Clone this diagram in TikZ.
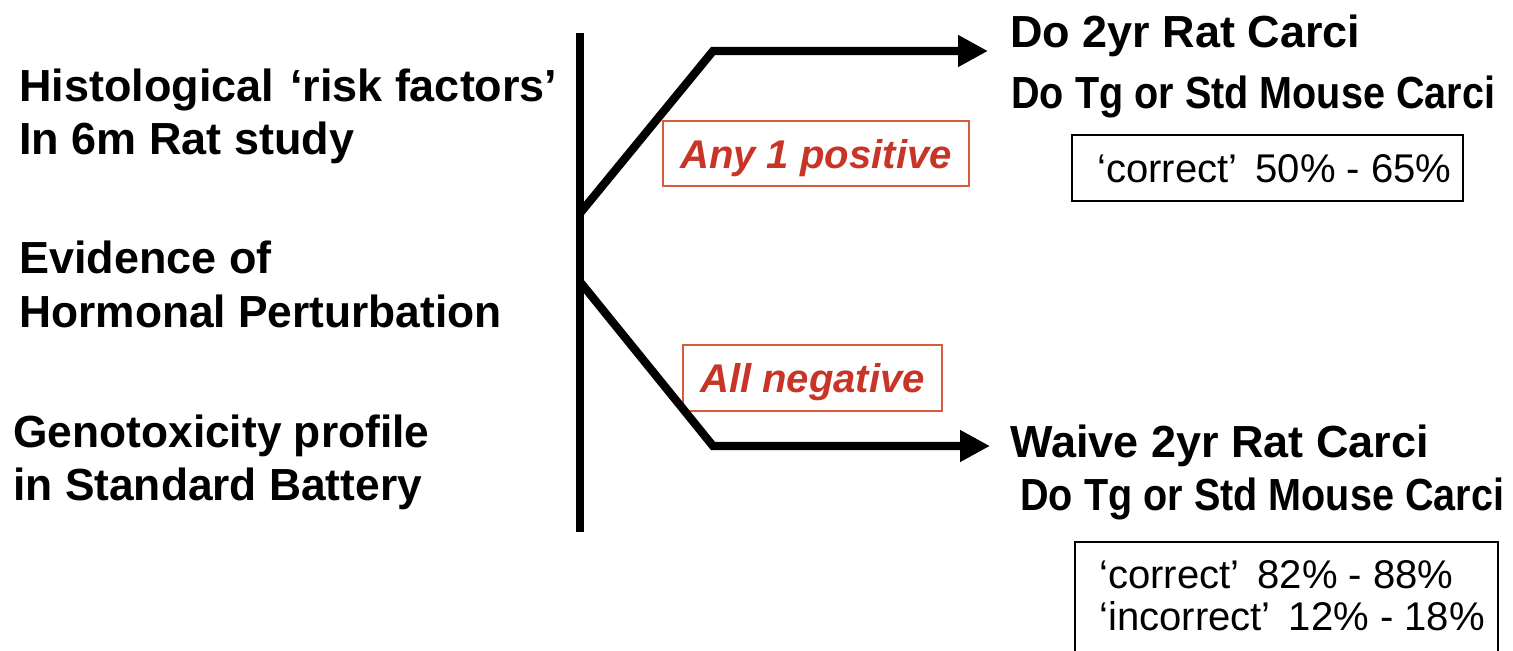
\documentclass[tikz,border=0pt]{standalone}
\usepackage{fontspec}
\setmainfont{Liberation Sans}
\usetikzlibrary{arrows.meta}
\definecolor{redtxt}{RGB}{200,52,38}
\definecolor{redbox}{RGB}{214,92,62}
\begin{document}
\begin{tikzpicture}[x=0.02cm,y=-0.02cm,
  big/.style={font=\fontsize{25.6pt}{30pt}\selectfont\bfseries, inner sep=0pt, anchor=base west},
  reg/.style={font=\fontsize{22.8pt}{27pt}\selectfont, inner sep=0pt, anchor=base west},
  redlabel/.style={font=\fontsize{22.8pt}{27pt}\selectfont\bfseries\itshape, text=redtxt, inner sep=0pt, anchor=base},
  redframe/.style={draw=redbox, line width=1.2pt, inner sep=0pt},
  blackframe/.style={draw=black, line width=1.3pt, inner sep=0pt},
  branch/.style={line width=4.7pt},
  arrowbranch/.style={branch, -{Triangle[length=17pt,width=17pt]}}
]
\useasboundingbox (0,0) rectangle (1513,650);
% left texts
\node[big] (hist1) at (19,101) {Histological\hspace{0.35em}‘risk factors’};
\node[big] (hist2) at (19,154) {In 6m Rat study};
\node[big] (horm1) at (19,273) {Evidence of};
\node[big] (horm2) at (19,327) {\scalebox{0.985}[1]{Hormonal Perturbation}};
\node[big] (geno1) at (13,447) {\scalebox{0.985}[1]{Genotoxicity profile}};
\node[big] (geno2) at (13,500) {\scalebox{0.985}[1]{in Standard Battery}};
% right texts
\node[big] (do2yr) at (1010,47) {Do 2yr Rat Carci};
\node[big] (dotg1) at (1011,108) {\scalebox{0.88}[1]{Do Tg or Std Mouse Carci}};
\node[big] (waive) at (1010,457) {Waive 2yr Rat Carci};
\node[big] (dotg2) at (1020,510) {\scalebox{0.88}[1]{Do Tg or Std Mouse Carci}};
% result boxes
\node[blackframe, minimum width=7.82cm, minimum height=1.32cm] (res1box) at (1267.5,168) {};
\node[reg] (res1) at (1097,182) {‘correct’\hspace{0.45em}50\% - 65\%};
\draw[blackframe] (1075,660) -- (1075,542) -- (1498,542) -- (1498,660);
\node[reg] (res2a) at (1099,588) {‘correct’\hspace{0.45em}82\% - 88\%};
\node[reg] (res2b) at (1099,630) {‘incorrect’\hspace{0.45em}12\% - 18\%};
% red condition boxes
\node[redframe, minimum width=6.12cm, minimum height=1.3cm] (posbox) at (816,153.5) {};
\node[redlabel] (pos) at (816,168) {Any 1 positive};
\node[redframe, minimum width=5.18cm, minimum height=1.32cm] (negbox) at (812.5,378) {};
\node[redlabel] (neg) at (812.5,392) {All negative};
% connectors
\coordinate (vtop) at (580,33);
\coordinate (vbot) at (580,532);
\coordinate (j1) at (581,212);
\coordinate (k1) at (713,51);
\coordinate (e1) at (988,51);
\coordinate (j2) at (581,283);
\coordinate (k2) at (713,446);
\coordinate (e2) at (990,446);
\draw[branch] (vtop) -- (vbot);
\draw[arrowbranch] (j1) -- (k1) -- (e1);
\draw[arrowbranch] (j2) -- (k2) -- (e2);
\end{tikzpicture}
\end{document}
